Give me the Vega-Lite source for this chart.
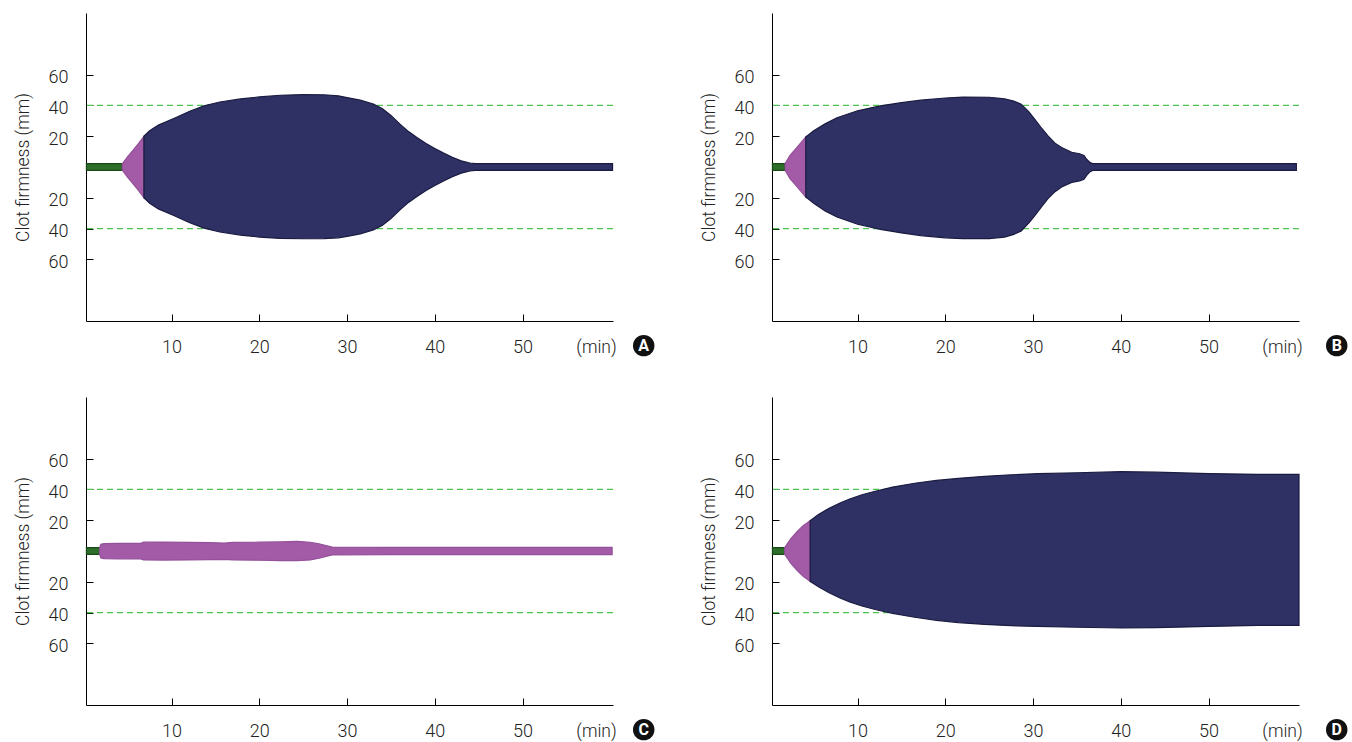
{
  "$schema": "https://vega.github.io/schema/vega-lite/v6.json",
  "background": "white",
  "padding": {"left": 14, "top": 13, "right": 5, "bottom": 5},
  "columns": 2,
  "spacing": {"row": 76, "column": 159},
  "bounds": "flush",
  "config": {
    "view": {"stroke": null},
    "font": "Roboto",
    "axis": {
      "domainColor": "#000", "domainWidth": 1, "tickColor": "#000", "tickWidth": 1, "tickSize": -7,
      "grid": false, "labelFont": "Roboto", "labelFontSize": 18, "labelFontWeight": 300, "labelColor": "#222",
      "titleFont": "Roboto", "titleFontSize": 17.5, "titleFontWeight": 300, "titleColor": "#222", "labelOverlap": false
    },
    "axisX": {"labelPadding": 24, "titleX": 510, "titleY": 26, "titleBaseline": "middle", "titleAlign": "center", "labelFlush": false},
    "axisY": {"labelPadding": 25, "labelOffset": 3, "titleX": -63, "titleY": 154, "titleBaseline": "middle", "titleAlign": "center", "titleAngle": -90}
  },
  "datasets": {
    "ref": [{"hi": 40}, {"hi": -40}],
    "tagA": [{"t": 63.8, "hi": -116, "label": "A"}],
    "tagB": [{"t": 64.6, "hi": -116, "label": "B"}],
    "tagC": [{"t": 63.8, "hi": -116, "label": "C"}],
    "tagD": [{"t": 64.6, "hi": -116, "label": "D"}],
    "A": [
      {"t": 0.3, "hi": 2.2, "lo": -2.2, "phase": "baseline"},
      {"t": 4.4, "hi": 2.2, "lo": -2.2, "phase": "baseline"},
      {"t": 4.4, "hi": 2.2, "lo": -2.2, "phase": "clotting"},
      {"t": 5.0, "hi": 6.8, "lo": -6.8, "phase": "clotting"},
      {"t": 5.6, "hi": 10.8, "lo": -10.8, "phase": "clotting"},
      {"t": 6.2, "hi": 15, "lo": -15, "phase": "clotting"},
      {"t": 6.85, "hi": 20, "lo": -20, "phase": "clotting"},
      {"t": 6.85, "hi": 20, "lo": -20, "phase": "firm"},
      {"t": 7.5, "hi": 23.5, "lo": -23.5, "phase": "firm"},
      {"t": 8.5, "hi": 27.2, "lo": -27.2, "phase": "firm"},
      {"t": 10.25, "hi": 31.5, "lo": -31.5, "phase": "firm"},
      {"t": 12, "hi": 36, "lo": -36, "phase": "firm"},
      {"t": 13.7, "hi": 39.7, "lo": -39.7, "phase": "firm"},
      {"t": 15.5, "hi": 42.2, "lo": -42.2, "phase": "firm"},
      {"t": 17.85, "hi": 44.2, "lo": -44.2, "phase": "firm"},
      {"t": 20, "hi": 45.5, "lo": -45.5, "phase": "firm"},
      {"t": 22.4, "hi": 46.6, "lo": -46.4, "phase": "firm"},
      {"t": 25, "hi": 47, "lo": -46.6, "phase": "firm"},
      {"t": 27.35, "hi": 46.9, "lo": -46.5, "phase": "firm"},
      {"t": 29, "hi": 46.2, "lo": -46, "phase": "firm"},
      {"t": 30, "hi": 45.1, "lo": -45.1, "phase": "firm"},
      {"t": 31.5, "hi": 43.4, "lo": -43.4, "phase": "firm"},
      {"t": 33, "hi": 40.8, "lo": -40.8, "phase": "firm"},
      {"t": 34, "hi": 38, "lo": -38, "phase": "firm"},
      {"t": 35, "hi": 33.5, "lo": -33.5, "phase": "firm"},
      {"t": 36, "hi": 28, "lo": -28, "phase": "firm"},
      {"t": 37, "hi": 23, "lo": -23, "phase": "firm"},
      {"t": 38, "hi": 19, "lo": -19, "phase": "firm"},
      {"t": 39, "hi": 15.2, "lo": -15.2, "phase": "firm"},
      {"t": 40, "hi": 12, "lo": -12, "phase": "firm"},
      {"t": 41, "hi": 9, "lo": -9, "phase": "firm"},
      {"t": 42, "hi": 6.3, "lo": -6.3, "phase": "firm"},
      {"t": 43, "hi": 4, "lo": -4, "phase": "firm"},
      {"t": 44, "hi": 2.6, "lo": -2.6, "phase": "firm"},
      {"t": 44.6, "hi": 2.2, "lo": -2.2, "phase": "firm"},
      {"t": 52, "hi": 2.2, "lo": -2.2, "phase": "firm"},
      {"t": 60.25, "hi": 2.2, "lo": -2.2, "phase": "firm"}
    ],
    "B": [
      {"t": 0.3, "hi": 2.2, "lo": -2.2, "phase": "baseline"},
      {"t": 1.75, "hi": 2.2, "lo": -2.2, "phase": "baseline"},
      {"t": 1.75, "hi": 2.2, "lo": -2.2, "phase": "clotting"},
      {"t": 2.3, "hi": 7.5, "lo": -7.5, "phase": "clotting"},
      {"t": 2.9, "hi": 11.5, "lo": -11.5, "phase": "clotting"},
      {"t": 3.5, "hi": 15.5, "lo": -15.5, "phase": "clotting"},
      {"t": 4.1, "hi": 19.5, "lo": -19.5, "phase": "clotting"},
      {"t": 4.1, "hi": 19.5, "lo": -19.5, "phase": "firm"},
      {"t": 5, "hi": 23.5, "lo": -23.5, "phase": "firm"},
      {"t": 6.3, "hi": 28, "lo": -28.5, "phase": "firm"},
      {"t": 7.65, "hi": 32, "lo": -32.5, "phase": "firm"},
      {"t": 10, "hi": 36.5, "lo": -37.2, "phase": "firm"},
      {"t": 12.6, "hi": 39.7, "lo": -40.5, "phase": "firm"},
      {"t": 15, "hi": 41.8, "lo": -42.8, "phase": "firm"},
      {"t": 17.2, "hi": 43.4, "lo": -44.5, "phase": "firm"},
      {"t": 20, "hi": 44.8, "lo": -46, "phase": "firm"},
      {"t": 22, "hi": 45.4, "lo": -46.5, "phase": "firm"},
      {"t": 25, "hi": 45.3, "lo": -46.5, "phase": "firm"},
      {"t": 26.75, "hi": 44.3, "lo": -45.5, "phase": "firm"},
      {"t": 27.8, "hi": 42.8, "lo": -43.8, "phase": "firm"},
      {"t": 28.65, "hi": 40.8, "lo": -41.5, "phase": "firm"},
      {"t": 29.5, "hi": 36, "lo": -36.5, "phase": "firm"},
      {"t": 30.2, "hi": 31, "lo": -31.5, "phase": "firm"},
      {"t": 31, "hi": 25, "lo": -25.5, "phase": "firm"},
      {"t": 31.7, "hi": 20.2, "lo": -20.5, "phase": "firm"},
      {"t": 32.5, "hi": 15.5, "lo": -16, "phase": "firm"},
      {"t": 33.25, "hi": 12.7, "lo": -13, "phase": "firm"},
      {"t": 34.4, "hi": 9.6, "lo": -10, "phase": "firm"},
      {"t": 35.3, "hi": 8.6, "lo": -9, "phase": "firm"},
      {"t": 35.8, "hi": 7.5, "lo": -8, "phase": "firm"},
      {"t": 36.1, "hi": 5, "lo": -5.5, "phase": "firm"},
      {"t": 36.5, "hi": 2.8, "lo": -3, "phase": "firm"},
      {"t": 36.8, "hi": 2.2, "lo": -2.2, "phase": "firm"},
      {"t": 45, "hi": 2.2, "lo": -2.2, "phase": "firm"},
      {"t": 60, "hi": 2.2, "lo": -2.2, "phase": "firm"}
    ],
    "C": [
      {"t": 0.3, "hi": 2.2, "lo": -2.2, "phase": "baseline"},
      {"t": 1.8, "hi": 2.2, "lo": -2.2, "phase": "baseline"},
      {"t": 1.8, "hi": 2.2, "lo": -2.2, "phase": "clotting"},
      {"t": 1.95, "hi": 4.3, "lo": -4.5, "phase": "clotting"},
      {"t": 2.3, "hi": 4.8, "lo": -5, "phase": "clotting"},
      {"t": 4, "hi": 4.9, "lo": -5.1, "phase": "clotting"},
      {"t": 6.5, "hi": 5, "lo": -5.2, "phase": "clotting"},
      {"t": 6.8, "hi": 5.7, "lo": -5.8, "phase": "clotting"},
      {"t": 9, "hi": 5.8, "lo": -5.9, "phase": "clotting"},
      {"t": 12, "hi": 5.6, "lo": -5.8, "phase": "clotting"},
      {"t": 14.5, "hi": 5.4, "lo": -5.6, "phase": "clotting"},
      {"t": 16, "hi": 5.2, "lo": -5.5, "phase": "clotting"},
      {"t": 17, "hi": 5.6, "lo": -5.8, "phase": "clotting"},
      {"t": 20, "hi": 5.7, "lo": -6, "phase": "clotting"},
      {"t": 22.5, "hi": 6, "lo": -6.3, "phase": "clotting"},
      {"t": 24.3, "hi": 6.3, "lo": -6.3, "phase": "clotting"},
      {"t": 25.8, "hi": 5.7, "lo": -5.8, "phase": "clotting"},
      {"t": 26.8, "hi": 4.6, "lo": -4.7, "phase": "clotting"},
      {"t": 27.6, "hi": 3.5, "lo": -3.5, "phase": "clotting"},
      {"t": 28.3, "hi": 2.6, "lo": -2.6, "phase": "clotting"},
      {"t": 35, "hi": 2.4, "lo": -2.4, "phase": "clotting"},
      {"t": 45, "hi": 2.4, "lo": -2.4, "phase": "clotting"},
      {"t": 60.2, "hi": 2.4, "lo": -2.4, "phase": "clotting"}
    ],
    "D": [
      {"t": 0.3, "hi": 2.2, "lo": -2.2, "phase": "baseline"},
      {"t": 1.7, "hi": 2.2, "lo": -2.2, "phase": "baseline"},
      {"t": 1.7, "hi": 2.2, "lo": -2.2, "phase": "clotting"},
      {"t": 2.4, "hi": 8, "lo": -8, "phase": "clotting"},
      {"t": 3.1, "hi": 12.5, "lo": -12.5, "phase": "clotting"},
      {"t": 3.8, "hi": 16.5, "lo": -16.5, "phase": "clotting"},
      {"t": 4.6, "hi": 19.7, "lo": -19.7, "phase": "clotting"},
      {"t": 4.6, "hi": 19.7, "lo": -19.7, "phase": "firm"},
      {"t": 5.5, "hi": 23.5, "lo": -23, "phase": "firm"},
      {"t": 6.7, "hi": 27.5, "lo": -27, "phase": "firm"},
      {"t": 8, "hi": 31.2, "lo": -30.5, "phase": "firm"},
      {"t": 9.1, "hi": 33.8, "lo": -33, "phase": "firm"},
      {"t": 10.5, "hi": 36.5, "lo": -35.7, "phase": "firm"},
      {"t": 12, "hi": 38.8, "lo": -38, "phase": "firm"},
      {"t": 14, "hi": 41.5, "lo": -40.5, "phase": "firm"},
      {"t": 16.5, "hi": 44, "lo": -43, "phase": "firm"},
      {"t": 19, "hi": 45.8, "lo": -45, "phase": "firm"},
      {"t": 21.5, "hi": 47.2, "lo": -46.5, "phase": "firm"},
      {"t": 24.5, "hi": 48.5, "lo": -47.7, "phase": "firm"},
      {"t": 27.5, "hi": 49.5, "lo": -48.5, "phase": "firm"},
      {"t": 30.5, "hi": 50.2, "lo": -49, "phase": "firm"},
      {"t": 35, "hi": 50.8, "lo": -49.5, "phase": "firm"},
      {"t": 40, "hi": 51.5, "lo": -50, "phase": "firm"},
      {"t": 44, "hi": 51.2, "lo": -49.8, "phase": "firm"},
      {"t": 50, "hi": 50.3, "lo": -49, "phase": "firm"},
      {"t": 55.6, "hi": 49.8, "lo": -48.3, "phase": "firm"},
      {"t": 60.3, "hi": 49.8, "lo": -48.3, "phase": "firm"}
    ]
  },
  "concat": [
    {
      "width": 527, "height": 308,
      "layer": [
        {"data": {"name": "ref"}, "mark": {"type": "rule", "color": "#4ec24e", "strokeDash": [6, 4], "strokeWidth": 1.3},
         "encoding": {"y": {"field": "hi", "type": "quantitative", "scale": {"domain": [-100, 100], "nice": false}}}},
        {"data": {"name": "A"}, "mark": {"type": "area", "orient": "vertical", "strokeWidth": 1.2},
         "encoding": {
           "x": {"field": "t", "type": "quantitative", "scale": {"domain": [0.25, 60.3], "nice": false, "zero": false}, "axis": {"values": [10, 20, 30, 40, 50], "format": "d", "title": "(min)"}},
           "y": {"field": "hi", "type": "quantitative", "scale": {"domain": [-100, 100], "nice": false}, "axis": {"values": [-60, -40, -20, 20, 40, 60], "labelExpr": "abs(datum.value)", "title": "Clot firmness (mm)"}},
           "y2": {"field": "lo"},
           "color": {"field": "phase", "type": "nominal", "scale": {"domain": ["baseline", "clotting", "firm"], "range": ["#2d6e2b", "#a35ba7", "#2f3165"]}, "legend": null},
           "stroke": {"field": "phase", "type": "nominal", "scale": {"domain": ["baseline", "clotting", "firm"], "range": ["#1b4a1a", "#94509a", "#1a1b40"]}, "legend": null}
         }},
        {"data": {"name": "tagA"}, "mark": {"type": "point", "shape": "circle", "filled": true, "size": 460, "color": "#111", "opacity": 1},
         "encoding": {"x": {"field": "t", "type": "quantitative"}, "y": {"field": "hi", "type": "quantitative"}}},
        {"data": {"name": "tagA"}, "mark": {"type": "text", "color": "white", "font": "Roboto", "fontWeight": "bold", "fontSize": 16, "align": "center", "baseline": "middle"},
         "encoding": {"x": {"field": "t", "type": "quantitative"}, "y": {"field": "hi", "type": "quantitative"}, "text": {"field": "label"}}}
      ]
    },
    {
      "width": 527, "height": 308,
      "layer": [
        {"data": {"name": "ref"}, "mark": {"type": "rule", "color": "#4ec24e", "strokeDash": [6, 4], "strokeWidth": 1.3},
         "encoding": {"y": {"field": "hi", "type": "quantitative", "scale": {"domain": [-100, 100], "nice": false}}}},
        {"data": {"name": "B"}, "mark": {"type": "area", "orient": "vertical", "strokeWidth": 1.2},
         "encoding": {
           "x": {"field": "t", "type": "quantitative", "scale": {"domain": [0.25, 60.3], "nice": false, "zero": false}, "axis": {"values": [10, 20, 30, 40, 50], "format": "d", "title": "(min)"}},
           "y": {"field": "hi", "type": "quantitative", "scale": {"domain": [-100, 100], "nice": false}, "axis": {"values": [-60, -40, -20, 20, 40, 60], "labelExpr": "abs(datum.value)", "title": "Clot firmness (mm)"}},
           "y2": {"field": "lo"},
           "color": {"field": "phase", "type": "nominal", "scale": {"domain": ["baseline", "clotting", "firm"], "range": ["#2d6e2b", "#a35ba7", "#2f3165"]}, "legend": null},
           "stroke": {"field": "phase", "type": "nominal", "scale": {"domain": ["baseline", "clotting", "firm"], "range": ["#1b4a1a", "#94509a", "#1a1b40"]}, "legend": null}
         }},
        {"data": {"name": "tagB"}, "mark": {"type": "point", "shape": "circle", "filled": true, "size": 460, "color": "#111", "opacity": 1},
         "encoding": {"x": {"field": "t", "type": "quantitative"}, "y": {"field": "hi", "type": "quantitative"}}},
        {"data": {"name": "tagB"}, "mark": {"type": "text", "color": "white", "font": "Roboto", "fontWeight": "bold", "fontSize": 16, "align": "center", "baseline": "middle"},
         "encoding": {"x": {"field": "t", "type": "quantitative"}, "y": {"field": "hi", "type": "quantitative"}, "text": {"field": "label"}}}
      ]
    },
    {
      "width": 527, "height": 308,
      "layer": [
        {"data": {"name": "ref"}, "mark": {"type": "rule", "color": "#4ec24e", "strokeDash": [6, 4], "strokeWidth": 1.3},
         "encoding": {"y": {"field": "hi", "type": "quantitative", "scale": {"domain": [-100, 100], "nice": false}}}},
        {"data": {"name": "C"}, "mark": {"type": "area", "orient": "vertical", "strokeWidth": 1.2},
         "encoding": {
           "x": {"field": "t", "type": "quantitative", "scale": {"domain": [0.25, 60.3], "nice": false, "zero": false}, "axis": {"values": [10, 20, 30, 40, 50], "format": "d", "title": "(min)"}},
           "y": {"field": "hi", "type": "quantitative", "scale": {"domain": [-100, 100], "nice": false}, "axis": {"values": [-60, -40, -20, 20, 40, 60], "labelExpr": "abs(datum.value)", "title": "Clot firmness (mm)"}},
           "y2": {"field": "lo"},
           "color": {"field": "phase", "type": "nominal", "scale": {"domain": ["baseline", "clotting", "firm"], "range": ["#2d6e2b", "#a35ba7", "#2f3165"]}, "legend": null},
           "stroke": {"field": "phase", "type": "nominal", "scale": {"domain": ["baseline", "clotting", "firm"], "range": ["#1b4a1a", "#94509a", "#1a1b40"]}, "legend": null}
         }},
        {"data": {"name": "tagC"}, "mark": {"type": "point", "shape": "circle", "filled": true, "size": 460, "color": "#111", "opacity": 1},
         "encoding": {"x": {"field": "t", "type": "quantitative"}, "y": {"field": "hi", "type": "quantitative"}}},
        {"data": {"name": "tagC"}, "mark": {"type": "text", "color": "white", "font": "Roboto", "fontWeight": "bold", "fontSize": 16, "align": "center", "baseline": "middle"},
         "encoding": {"x": {"field": "t", "type": "quantitative"}, "y": {"field": "hi", "type": "quantitative"}, "text": {"field": "label"}}}
      ]
    },
    {
      "width": 527, "height": 308,
      "layer": [
        {"data": {"name": "ref"}, "mark": {"type": "rule", "color": "#4ec24e", "strokeDash": [6, 4], "strokeWidth": 1.3},
         "encoding": {"y": {"field": "hi", "type": "quantitative", "scale": {"domain": [-100, 100], "nice": false}}}},
        {"data": {"name": "D"}, "mark": {"type": "area", "orient": "vertical", "strokeWidth": 1.2},
         "encoding": {
           "x": {"field": "t", "type": "quantitative", "scale": {"domain": [0.25, 60.3], "nice": false, "zero": false}, "axis": {"values": [10, 20, 30, 40, 50], "format": "d", "title": "(min)"}},
           "y": {"field": "hi", "type": "quantitative", "scale": {"domain": [-100, 100], "nice": false}, "axis": {"values": [-60, -40, -20, 20, 40, 60], "labelExpr": "abs(datum.value)", "title": "Clot firmness (mm)"}},
           "y2": {"field": "lo"},
           "color": {"field": "phase", "type": "nominal", "scale": {"domain": ["baseline", "clotting", "firm"], "range": ["#2d6e2b", "#a35ba7", "#2f3165"]}, "legend": null},
           "stroke": {"field": "phase", "type": "nominal", "scale": {"domain": ["baseline", "clotting", "firm"], "range": ["#1b4a1a", "#94509a", "#1a1b40"]}, "legend": null}
         }},
        {"data": {"name": "tagD"}, "mark": {"type": "point", "shape": "circle", "filled": true, "size": 460, "color": "#111", "opacity": 1},
         "encoding": {"x": {"field": "t", "type": "quantitative"}, "y": {"field": "hi", "type": "quantitative"}}},
        {"data": {"name": "tagD"}, "mark": {"type": "text", "color": "white", "font": "Roboto", "fontWeight": "bold", "fontSize": 16, "align": "center", "baseline": "middle"},
         "encoding": {"x": {"field": "t", "type": "quantitative"}, "y": {"field": "hi", "type": "quantitative"}, "text": {"field": "label"}}}
      ]
    }
  ]
}
